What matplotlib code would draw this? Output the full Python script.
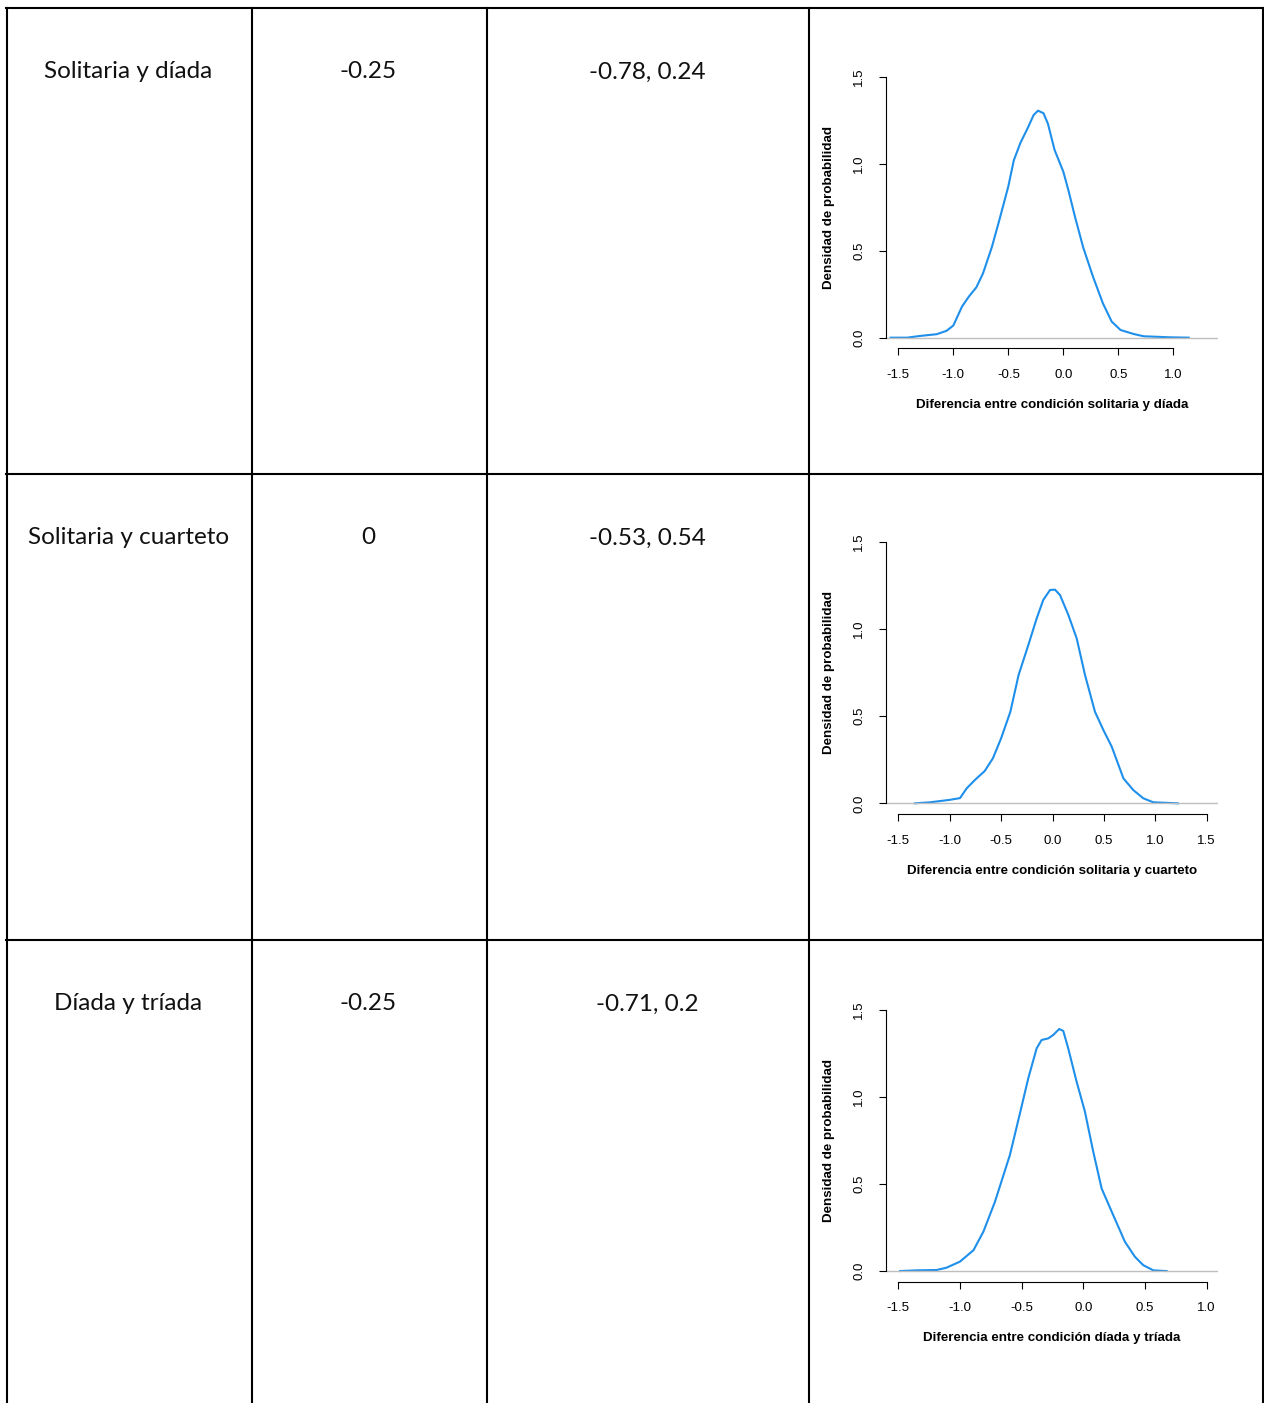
import matplotlib
matplotlib.use("Agg")
import matplotlib.pyplot as plt

# table contents
comparisons = ["Solitaria y díada", "Solitaria y cuarteto", "Díada y tríada"]
differences = ["-0.25", "0", "-0.25"]
intervals = ["-0.78, 0.24", "-0.53, 0.54", "-0.71, 0.2"]
xlabels = ["Diferencia entre condición solitaria y díada",
           "Diferencia entre condición solitaria y cuarteto",
           "Diferencia entre condición díada y tríada"]

# density curves
dens1_x = [-1.57, -1.42, -1.30, -1.15, -1.06, -1.00, -0.92, -0.86, -0.79, -0.73, -0.65,
           -0.58, -0.50, -0.45, -0.39, -0.32, -0.27, -0.23, -0.18, -0.14, -0.08, 0.0,
           0.045, 0.106, 0.18, 0.27, 0.36, 0.44, 0.52, 0.64, 0.73, 0.97, 1.14]
dens1_y = [0.0, 0.0, 0.01, 0.02, 0.04, 0.07, 0.18, 0.235, 0.29, 0.37, 0.52,
           0.68, 0.87, 1.02, 1.12, 1.21, 1.28, 1.305, 1.29, 1.23, 1.08, 0.954,
           0.85, 0.695, 0.52, 0.35, 0.197, 0.092, 0.044, 0.021, 0.008, 0.002, 0.0]

dens2_x = [-1.34, -1.19, -1.0, -0.90, -0.835, -0.755, -0.66, -0.58, -0.50, -0.41, -0.33,
           -0.235, -0.154, -0.09, -0.024, 0.024, 0.073, 0.154, 0.235, 0.316, 0.413,
           0.495, 0.576, 0.69, 0.786, 0.883, 0.98, 1.22]
dens2_y = [0.0, 0.006, 0.02, 0.03, 0.086, 0.134, 0.185, 0.258, 0.373, 0.525, 0.736,
           0.908, 1.06, 1.166, 1.223, 1.225, 1.194, 1.08, 0.946, 0.736, 0.525,
           0.42, 0.325, 0.143, 0.076, 0.029, 0.006, 0.0]

dens3_x = [-1.486, -1.35, -1.19, -1.11, -1.0, -0.89, -0.81, -0.716, -0.595, -0.51, -0.446,
           -0.378, -0.338, -0.284, -0.243, -0.195, -0.162, -0.122, -0.054, 0.0135, 0.081,
           0.149, 0.243, 0.338, 0.419, 0.486, 0.568, 0.676]
dens3_y = [0.0, 0.004, 0.006, 0.019, 0.054, 0.12, 0.226, 0.398, 0.666, 0.915, 1.106,
           1.278, 1.326, 1.335, 1.355, 1.389, 1.378, 1.278, 1.087, 0.915, 0.685,
           0.474, 0.321, 0.168, 0.082, 0.034, 0.004, 0.0]

curves = [(dens1_x, dens1_y), (dens2_x, dens2_y), (dens3_x, dens3_y)]
xticks = [[-1.5, -1.0, -0.5, 0.0, 0.5, 1.0],
          [-1.5, -1.0, -0.5, 0.0, 0.5, 1.0, 1.5],
          [-1.5, -1.0, -0.5, 0.0, 0.5, 1.0]]
xlims = [(-1.612, 1.406), (-1.62, 1.61), (-1.60, 1.093)]

W, H = 1264, 1403
fig = plt.figure(figsize=(W / 100, H / 100), dpi=100)

# table grid in pixel coordinates
bg = fig.add_axes([0, 0, 1, 1])
bg.set_xlim(0, W)
bg.set_ylim(H, 0)
bg.axis("off")
row_tops = [8, 474, 940]
col_x = [7, 252, 487, 809, 1263]
for y in row_tops:
    bg.plot([col_x[0] - 1, col_x[-1] + 1], [y, y], color="black", lw=1.5)
for x in col_x:
    bg.plot([x, x], [row_tops[0], H + 5], color="black", lw=1.5)

cell_font = ["Lato", "DejaVu Sans"]
col_centers = [(col_x[i] + col_x[i + 1]) / 2 for i in range(3)]
for i in range(3):
    ty = row_tops[i] + 64
    for j, txt in enumerate([comparisons[i], differences[i], intervals[i]]):
        bg.text(col_centers[j] - 1, ty, txt, ha="center", va="center",
                fontsize=17.5, family=cell_font, color="#111111")

# density plots, R style
plot_tops = [66.3, 531.2, 999.2]
plot_bots = [348.1, 813.8, 1281.5]
left_px, right_px = 886, 1218
pfont = ["Liberation Sans", "DejaVu Sans"]
for i in range(3):
    ax = fig.add_axes([left_px / W, 1 - plot_bots[i] / H,
                       (right_px - left_px) / W, (plot_bots[i] - plot_tops[i]) / H])
    xs, ys = curves[i]
    ax.plot(xs, ys, color="#1E8FEA", lw=1.5)
    ax.axhline(0, color="#bebebe", lw=1.0)
    ax.set_xlim(*xlims[i])
    ax.set_ylim(-0.06, 1.56)
    for s in ["top", "right"]:
        ax.spines[s].set_visible(False)
    ax.spines["left"].set_bounds(0, 1.5)
    ax.spines["bottom"].set_bounds(xticks[i][0], xticks[i][-1])
    ax.set_xticks(xticks[i])
    ax.set_xticklabels([f"{v:.1f}" for v in xticks[i]], family=pfont, fontsize=9.5)
    ax.set_yticks([0, 0.5, 1.0, 1.5])
    ax.set_yticklabels(["0.0", "0.5", "1.0", "1.5"], family=pfont, fontsize=9.5,
                       rotation=90, va="center")
    ax.tick_params(direction="out", length=5, width=0.8, pad=10)
    ax.set_xlabel(xlabels[i], family=pfont, fontsize=9.6, fontweight="bold", labelpad=13)
    ax.set_ylabel("Densidad de probabilidad", family=pfont, fontsize=9.6,
                  fontweight="bold", labelpad=13)
    ax.set_facecolor("none")

fig.savefig("out.png", dpi=100)
